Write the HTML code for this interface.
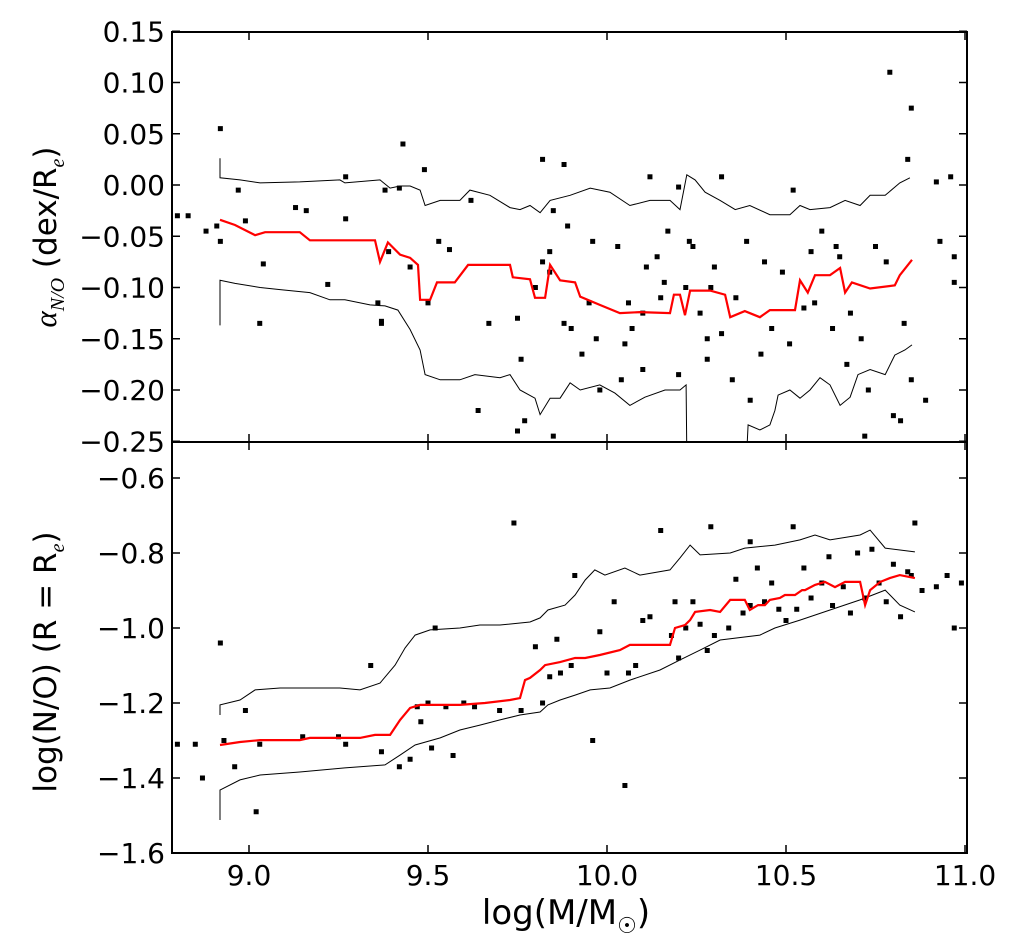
<!DOCTYPE html>
<html><head><meta charset="utf-8"><style>
body{margin:0;background:#fff}
svg{display:block;font-family:"DejaVu Sans","Liberation Sans",sans-serif}
</style></head><body>
<svg id="chart" width="1017" height="952" xmlns="http://www.w3.org/2000/svg">
<g id="top-panel"></g>
<g id="bot-panel"></g>
<text x="566" y="924" font-size="34" text-anchor="middle">log(M/M<tspan font-size="22" dy="9">☉</tspan><tspan dy="-9">)</tspan></text>
<text transform="translate(56,237) rotate(-90)" font-size="31" text-anchor="middle"><tspan font-family="Liberation Serif,serif" font-style="italic">α</tspan><tspan font-size="20" font-family="Liberation Serif,serif" font-style="italic" dy="8">N/O</tspan><tspan dy="-8"> (dex/R</tspan><tspan font-size="20" font-family="Liberation Serif,serif" font-style="italic" dy="8">e</tspan><tspan dy="-8">)</tspan></text>
<text transform="translate(56,662) rotate(-90)" font-size="31" text-anchor="middle">log(N/O) (R = R<tspan font-size="20" font-family="Liberation Serif,serif" font-style="italic" dy="8">e</tspan><tspan dy="-8">)</tspan></text>
</svg>
<script>
const xTicks=[9.0,9.5,10.0,10.5,11.0];
const xTickLabels=["9.0","9.5","10.0","10.5","11.0"];
const topTicks=[0.15,0.10,0.05,0.00,-0.05,-0.10,-0.15,-0.20,-0.25];
const topTickLabels=["0.15","0.10","0.05","0.00","−0.05","−0.10","−0.15","−0.20","−0.25"];
const botTicks=[-0.6,-0.8,-1.0,-1.2,-1.4,-1.6];
const botTickLabels=["−0.6","−0.8","−1.0","−1.2","−1.4","−1.6"];

const topRedX=[8.919,8.961,9.017,9.045,9.142,9.170,9.352,9.366,9.388,9.422,9.450,9.472,9.478,9.506,9.525,9.575,9.612,9.729,9.737,9.785,9.799,9.827,9.841,9.869,9.911,9.925,9.980,10.036,10.092,10.176,10.187,10.204,10.218,10.232,10.288,10.330,10.344,10.385,10.427,10.455,10.525,10.539,10.561,10.581,10.623,10.651,10.665,10.684,10.735,10.804,10.818,10.852];
const topRedY=[-0.034,-0.039,-0.049,-0.046,-0.046,-0.054,-0.054,-0.075,-0.056,-0.068,-0.071,-0.078,-0.112,-0.112,-0.095,-0.095,-0.078,-0.078,-0.090,-0.092,-0.110,-0.110,-0.078,-0.093,-0.095,-0.109,-0.117,-0.125,-0.124,-0.125,-0.107,-0.107,-0.127,-0.103,-0.103,-0.107,-0.129,-0.123,-0.129,-0.122,-0.122,-0.093,-0.105,-0.088,-0.088,-0.081,-0.105,-0.095,-0.101,-0.098,-0.088,-0.073];
const topUpX=[8.919,8.919,8.975,9.031,9.142,9.254,9.268,9.366,9.394,9.422,9.450,9.478,9.492,9.534,9.589,9.617,9.673,9.729,9.757,9.785,9.813,9.841,9.897,9.953,10.008,10.064,10.120,10.176,10.204,10.223,10.246,10.274,10.316,10.358,10.399,10.455,10.511,10.539,10.567,10.623,10.665,10.707,10.735,10.777,10.818,10.846];
const topUpY=[0.026,0.007,0.005,0.002,0.003,0.005,0.002,0.005,-0.003,-0.001,-0.001,-0.005,-0.020,-0.015,-0.015,-0.005,-0.010,-0.022,-0.024,-0.020,-0.027,-0.015,-0.010,-0.003,-0.007,-0.020,-0.015,-0.015,-0.024,0.010,0.005,-0.007,-0.015,-0.024,-0.020,-0.029,-0.029,-0.020,-0.024,-0.022,-0.015,-0.020,-0.010,-0.010,0.002,0.007];
const topLoX=[8.919,8.919,8.961,9.031,9.087,9.170,9.226,9.268,9.338,9.380,9.416,9.450,9.478,9.492,9.534,9.589,9.631,9.701,9.729,9.757,9.799,9.813,9.841,9.869,9.897,9.925,9.980,10.022,10.064,10.106,10.162,10.204,10.221,10.224,10.385,10.394,10.427,10.455,10.469,10.478,10.511,10.539,10.567,10.595,10.623,10.651,10.679,10.701,10.735,10.777,10.804,10.832,10.852];
const topLoY=[-0.137,-0.093,-0.096,-0.100,-0.102,-0.105,-0.112,-0.112,-0.117,-0.118,-0.122,-0.141,-0.161,-0.185,-0.190,-0.190,-0.185,-0.188,-0.185,-0.200,-0.208,-0.224,-0.208,-0.208,-0.193,-0.200,-0.195,-0.203,-0.215,-0.207,-0.200,-0.200,-0.195,-0.300,-0.300,-0.234,-0.239,-0.234,-0.220,-0.205,-0.200,-0.208,-0.200,-0.188,-0.195,-0.215,-0.207,-0.185,-0.180,-0.185,-0.166,-0.161,-0.156];
const topPtsX=[8.80,8.83,8.88,8.92,8.92,8.91,8.97,8.99,9.03,9.04,9.13,9.16,9.27,9.27,9.22,9.36,9.37,9.37,9.38,9.39,9.42,9.43,9.45,9.49,9.50,9.53,9.56,9.62,9.64,9.67,9.75,9.76,9.75,9.77,9.80,9.82,9.82,9.84,9.84,9.85,9.85,9.88,9.88,9.89,9.90,9.93,9.95,9.96,9.97,9.98,10.03,10.04,10.05,10.06,10.07,10.10,10.10,10.11,10.12,10.14,10.15,10.16,10.17,10.20,10.20,10.22,10.23,10.24,10.26,10.28,10.28,10.29,10.30,10.32,10.32,10.35,10.36,10.39,10.40,10.43,10.44,10.46,10.49,10.51,10.52,10.55,10.57,10.58,10.60,10.63,10.64,10.65,10.67,10.68,10.71,10.73,10.75,10.78,10.79,10.80,10.82,10.83,10.84,10.85,10.85,10.89,10.92,10.93,10.96,10.97,10.97,10.72];
const topPtsY=[-0.030,-0.030,-0.045,0.055,-0.055,-0.040,-0.005,-0.035,-0.135,-0.077,-0.022,-0.025,0.008,-0.033,-0.097,-0.115,-0.133,-0.135,-0.005,-0.065,-0.003,0.040,-0.080,0.015,-0.115,-0.055,-0.063,-0.015,-0.220,-0.135,-0.130,-0.170,-0.240,-0.230,-0.100,0.025,-0.075,-0.065,-0.085,-0.025,-0.245,0.020,-0.135,-0.040,-0.140,-0.165,-0.115,-0.055,-0.150,-0.200,-0.060,-0.190,-0.155,-0.115,-0.140,-0.180,-0.125,-0.080,0.008,-0.070,-0.110,-0.095,-0.045,-0.185,-0.002,-0.100,-0.055,-0.060,-0.125,-0.170,-0.150,-0.100,-0.080,-0.145,0.008,-0.190,-0.110,-0.055,-0.210,-0.165,-0.075,-0.140,-0.085,-0.155,-0.005,-0.120,-0.065,-0.115,-0.045,-0.140,-0.060,-0.070,-0.175,-0.125,-0.150,-0.200,-0.060,-0.075,0.110,-0.225,-0.230,-0.135,0.025,0.075,-0.190,-0.210,0.003,-0.055,0.008,-0.070,-0.095,-0.245];

const botRedX=[8.919,8.975,9.031,9.142,9.170,9.310,9.352,9.394,9.422,9.450,9.478,9.534,9.589,9.659,9.729,9.757,9.771,9.785,9.813,9.827,9.869,9.911,9.939,9.980,10.036,10.064,10.176,10.190,10.218,10.232,10.246,10.288,10.316,10.344,10.385,10.399,10.422,10.441,10.455,10.483,10.497,10.525,10.545,10.553,10.581,10.609,10.637,10.665,10.693,10.707,10.721,10.735,10.763,10.790,10.818,10.860];
const botRedY=[-1.312,-1.304,-1.299,-1.299,-1.293,-1.293,-1.285,-1.285,-1.245,-1.213,-1.205,-1.205,-1.205,-1.200,-1.192,-1.187,-1.139,-1.133,-1.112,-1.099,-1.091,-1.080,-1.080,-1.072,-1.059,-1.045,-1.045,-1.000,-0.992,-0.979,-0.957,-0.952,-0.957,-0.925,-0.925,-0.952,-0.939,-0.939,-0.925,-0.920,-0.912,-0.912,-0.899,-0.899,-0.885,-0.877,-0.891,-0.877,-0.877,-0.877,-0.939,-0.899,-0.877,-0.867,-0.859,-0.867];
const botUpX=[8.919,8.919,8.975,9.017,9.087,9.254,9.310,9.366,9.408,9.436,9.464,9.506,9.589,9.645,9.701,9.785,9.813,9.835,9.883,9.911,9.939,9.966,9.994,10.050,10.092,10.176,10.204,10.232,10.260,10.344,10.385,10.469,10.539,10.581,10.623,10.707,10.735,10.777,10.860];
const botUpY=[-1.232,-1.205,-1.192,-1.165,-1.160,-1.160,-1.165,-1.147,-1.099,-1.053,-1.019,-1.005,-1.000,-0.992,-0.992,-0.984,-0.973,-0.952,-0.939,-0.912,-0.872,-0.845,-0.859,-0.840,-0.859,-0.845,-0.813,-0.779,-0.805,-0.800,-0.787,-0.779,-0.765,-0.752,-0.765,-0.752,-0.739,-0.787,-0.797];
const botLoX=[8.919,8.919,8.975,9.031,9.142,9.268,9.380,9.422,9.464,9.534,9.589,9.645,9.701,9.757,9.813,9.835,9.869,9.911,9.953,10.008,10.064,10.148,10.204,10.260,10.316,10.427,10.469,10.539,10.623,10.707,10.777,10.818,10.860];
const botLoY=[-1.512,-1.432,-1.405,-1.392,-1.384,-1.373,-1.365,-1.339,-1.312,-1.293,-1.272,-1.259,-1.245,-1.232,-1.224,-1.205,-1.192,-1.179,-1.165,-1.160,-1.139,-1.112,-1.085,-1.059,-1.032,-1.019,-1.000,-0.979,-0.952,-0.925,-0.899,-0.939,-0.957];
const botPtsX=[8.80,8.85,8.87,8.92,8.93,8.96,8.99,9.02,9.03,9.15,9.25,9.27,9.34,9.37,9.42,9.45,9.48,9.50,9.51,9.52,9.55,9.57,9.60,9.70,9.74,9.76,9.80,9.82,9.84,9.86,9.87,9.90,9.91,9.96,9.98,10.00,10.02,10.05,10.06,10.08,10.10,10.12,10.15,10.18,10.19,10.20,10.22,10.24,10.26,10.28,10.29,10.30,10.34,10.36,10.38,10.40,10.42,10.44,10.46,10.48,10.50,10.52,10.53,10.55,10.57,10.60,10.62,10.63,10.66,10.68,10.70,10.72,10.74,10.76,10.78,10.80,10.82,10.84,10.85,10.86,10.88,10.92,10.95,10.97,10.99,9.47,9.63,10.40];
const botPtsY=[-1.31,-1.31,-1.40,-1.04,-1.30,-1.37,-1.22,-1.49,-1.31,-1.29,-1.29,-1.31,-1.10,-1.33,-1.37,-1.35,-1.25,-1.20,-1.32,-1.00,-1.21,-1.34,-1.20,-1.22,-0.72,-1.22,-1.05,-1.20,-1.13,-1.03,-1.12,-1.10,-0.86,-1.30,-1.01,-1.12,-0.93,-1.42,-1.12,-1.10,-0.98,-0.97,-0.74,-1.02,-0.93,-1.08,-1.00,-0.93,-0.99,-1.06,-0.73,-1.02,-1.00,-0.87,-0.96,-0.94,-0.84,-0.93,-0.88,-0.95,-0.98,-0.73,-0.95,-0.84,-0.92,-0.88,-0.81,-0.94,-0.89,-0.96,-0.80,-0.92,-0.79,-0.88,-0.93,-0.83,-0.97,-0.85,-0.86,-0.72,-0.90,-0.89,-0.86,-1.00,-0.88,-1.21,-1.21,-0.77];

const NS="http://www.w3.org/2000/svg";
const L=172,R=967;
const xS=v=>249+(v-9.0)*358;
const yTop=v=>185-v*1025;
const yBot=v=>478-(v+0.6)*375;
function mk(parent,tag,attrs){const e=document.createElementNS(NS,tag);for(const k in attrs)e.setAttribute(k,attrs[k]);parent.appendChild(e);return e;}

function panel(g,id,y0,y1,yS,ticks,labels,series,ptsX,ptsY,pre){
  const defs=mk(g,'defs',{});
  const cp=mk(defs,'clipPath',{id:id});
  mk(cp,'rect',{x:L,y:y0,width:R-L,height:y1-y0});
  const pg=mk(g,'g',{'clip-path':'url(#'+id+')'});
  for(let i=0;i<ptsX.length;i++){
    const r=mk(pg,'rect',{x:xS(ptsX[i])-2.5,y:yS(ptsY[i])-2.5,width:5,height:5,fill:'#000'});
    
    
  }
  series.forEach(s=>{
    const d=s.x.map((v,i)=>(i?'L':'M')+xS(v).toFixed(1)+','+yS(s.y[i]).toFixed(1)).join('');
    const p=mk(pg,'path',{d:d,fill:'none',stroke:s.c,'stroke-width':s.w,'stroke-linejoin':'miter'});
    
    
  });
  const fr=mk(g,'rect',{x:L,y:y0,width:R-L,height:y1-y0,fill:'none',stroke:'#000','stroke-width':2});
  
  
  ticks.forEach((t,i)=>{
    const y=yS(t);
    if(y<y0-1||y>y1+1)return;
    mk(g,'line',{x1:L,x2:L+8,y1:y,y2:y,stroke:'#000','stroke-width':1.5});
    mk(g,'line',{x1:R-8,x2:R,y1:y,y2:y,stroke:'#000','stroke-width':1.5});
    const tx=mk(g,'text',{x:L-7,y:y+10,'font-size':28,'text-anchor':'end'});
    tx.textContent=labels[i];
    
    
  });
  xTicks.forEach(t=>{
    const x=xS(t);
    mk(g,'line',{x1:x,x2:x,y1:y1,y2:y1-8,stroke:'#000','stroke-width':1.5});
    mk(g,'line',{x1:x,x2:x,y1:y0,y2:y0+8,stroke:'#000','stroke-width':1.5});
  });
}
const gt=document.getElementById('top-panel'),gb=document.getElementById('bot-panel');
panel(gt,'cpt',32,442,yTop,topTicks,topTickLabels,[
  {x:topUpX,y:topUpY,c:'#000',w:1,n:'alpha-upper-percentile-line'},
  {x:topLoX,y:topLoY,c:'#000',w:1,n:'alpha-lower-percentile-line'},
  {x:topRedX,y:topRedY,c:'#ff0000',w:2.2,n:'alpha-median-line'}],topPtsX,topPtsY,'alpha');
panel(gb,'cpb',442,853,yBot,botTicks,botTickLabels,[
  {x:botUpX,y:botUpY,c:'#000',w:1,n:'no-upper-percentile-line'},
  {x:botLoX,y:botLoY,c:'#000',w:1,n:'no-lower-percentile-line'},
  {x:botRedX,y:botRedY,c:'#ff0000',w:2.2,n:'no-median-line'}],botPtsX,botPtsY,'no');
xTicks.forEach((t,i)=>{
  const tx=mk(gb,'text',{x:xS(t),y:885,'font-size':28,'text-anchor':'middle'});
  tx.textContent=xTickLabels[i];
  
  
});
</script>
</body></html>
